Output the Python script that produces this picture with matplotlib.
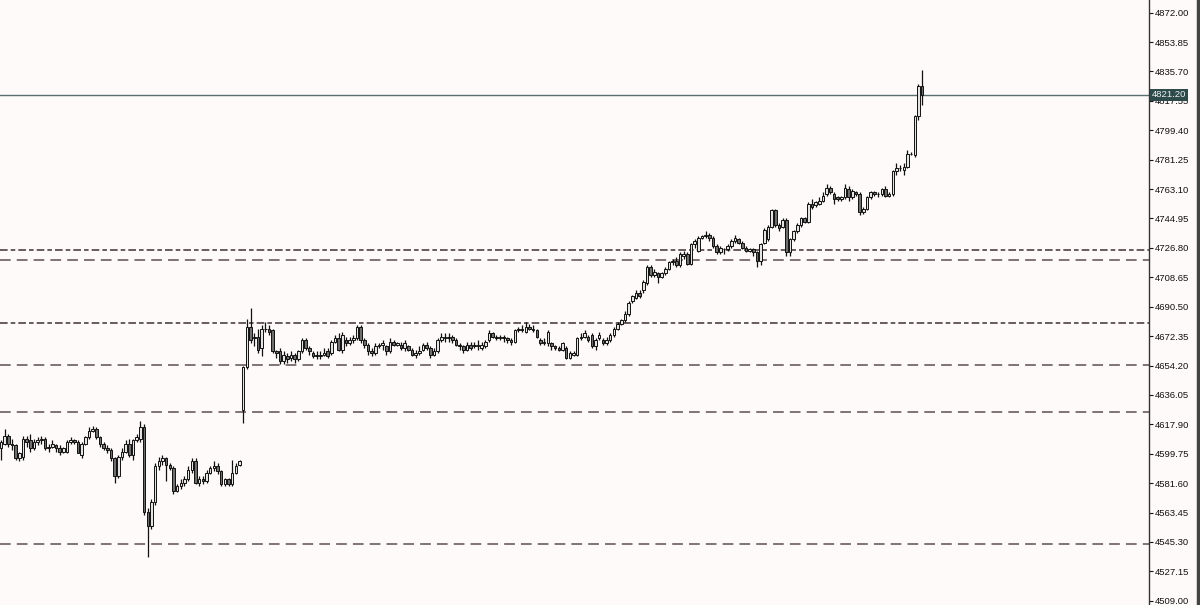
import numpy as np
import matplotlib
matplotlib.use("Agg")
from matplotlib import pyplot as plt

# candles, left to right (0-65 = first session, 66+ = after the gap)
opens = [
    4603, 4606, 4611, 4606, 4605, 4597, 4598, 4609, 4608, 4603,
    4607, 4608, 4609, 4603, 4604, 4605, 4603, 4601, 4601, 4607,
    4608, 4607, 4599, 4606, 4610, 4614, 4615, 4610, 4606, 4603,
    4602, 4597, 4586, 4598, 4601, 4606, 4599, 4608, 4609, 4616,
    4564, 4555, 4570, 4592, 4595, 4597, 4593, 4591, 4577, 4580,
    4582, 4584, 4590, 4595, 4582, 4584, 4583, 4588, 4591, 4592,
    4589, 4581, 4584, 4581, 4588, 4593,
    4627, 4653, 4678, 4671,
    4672, 4665, 4677, 4677, 4676, 4663, 4663, 4657, 4660, 4659,
    4661, 4658, 4663, 4670, 4665, 4662, 4661, 4660, 4661, 4663,
    4662, 4669, 4671, 4664, 4670, 4668, 4670, 4671, 4678, 4670,
    4667, 4663, 4662, 4666, 4667, 4666, 4663, 4669, 4667, 4667,
    4665, 4666, 4664, 4661, 4662, 4664, 4667, 4665, 4661, 4663,
    4670, 4672, 4671, 4672, 4670, 4667, 4666, 4664, 4667, 4666,
    4667, 4665, 4666, 4670, 4674, 4672, 4671, 4672, 4671, 4670,
    4669, 4676, 4677, 4675, 4678, 4677, 4676, 4670, 4668, 4668,
    4668, 4666, 4665, 4664, 4665, 4659, 4661, 4661, 4671, 4672,
    4672, 4673, 4666, 4671, 4670, 4668, 4670, 4673, 4677, 4680,
    4682, 4686, 4694, 4696, 4699, 4701, 4705, 4715, 4710, 4711,
    4709, 4711, 4714, 4718, 4719, 4716, 4722, 4723, 4717, 4729,
    4725, 4733, 4734, 4735, 4733, 4728, 4724, 4726, 4726, 4728,
    4731, 4732, 4730, 4727, 4725, 4726, 4724, 4719, 4730, 4732,
    4740, 4750, 4741, 4740, 4744, 4724, 4732, 4737, 4741, 4745,
    4743, 4754, 4753, 4754, 4756, 4760, 4764, 4760, 4758, 4757,
    4758, 4763, 4758, 4761, 4760, 4749, 4751, 4758, 4761, 4760,
    4760, 4763, 4759, 4760, 4774, 4776, 4775, 4777, 4785, 4784,
    4808, 4827,
]
highs = [
    4608, 4615, 4612, 4609, 4606, 4601, 4611, 4611, 4612, 4609,
    4610, 4611, 4610, 4606, 4608, 4606, 4605, 4604, 4608, 4610,
    4609, 4608, 4607, 4611, 4616, 4617, 4616, 4611, 4607, 4605,
    4603, 4598, 4599, 4603, 4608, 4609, 4609, 4612, 4620, 4618,
    4566, 4572, 4594, 4598, 4599, 4598, 4594, 4592, 4581, 4584,
    4586, 4592, 4597, 4597, 4586, 4586, 4590, 4592, 4595, 4594,
    4590, 4585, 4585, 4596, 4594, 4596,
    4654, 4683, 4690, 4674,
    4677, 4679, 4681, 4679, 4677, 4664, 4665, 4663, 4662, 4663,
    4662, 4664, 4671, 4671, 4666, 4663, 4663, 4663, 4665, 4665,
    4670, 4673, 4674, 4675, 4672, 4672, 4673, 4679, 4679, 4671,
    4668, 4665, 4668, 4668, 4670, 4667, 4671, 4670, 4669, 4669,
    4670, 4667, 4665, 4664, 4666, 4668, 4669, 4666, 4665, 4671,
    4674, 4674, 4674, 4673, 4671, 4668, 4667, 4669, 4669, 4669,
    4670, 4669, 4670, 4676, 4675, 4673, 4673, 4673, 4672, 4671,
    4677, 4678, 4679, 4681, 4680, 4679, 4677, 4671, 4671, 4676,
    4669, 4667, 4666, 4669, 4666, 4663, 4663, 4672, 4674, 4676,
    4673, 4674, 4671, 4675, 4671, 4672, 4674, 4678, 4681, 4683,
    4688, 4694, 4698, 4701, 4701, 4707, 4716, 4716, 4714, 4712,
    4712, 4715, 4719, 4720, 4721, 4724, 4725, 4724, 4730, 4732,
    4734, 4735, 4737, 4736, 4734, 4729, 4728, 4727, 4729, 4732,
    4735, 4733, 4731, 4728, 4727, 4727, 4725, 4730, 4739, 4741,
    4751, 4751, 4742, 4745, 4745, 4733, 4738, 4742, 4746, 4746,
    4755, 4757, 4756, 4758, 4761, 4766, 4765, 4761, 4759, 4759,
    4766, 4765, 4763, 4762, 4761, 4752, 4759, 4762, 4762, 4761,
    4764, 4765, 4761, 4775, 4779, 4778, 4779, 4787, 4786, 4809,
    4828, 4836.5,
]
lows = [
    4596, 4605, 4604, 4602, 4596, 4595, 4596, 4604, 4601, 4602,
    4605, 4606, 4602, 4601, 4603, 4601, 4599, 4600, 4600, 4606,
    4606, 4600, 4597, 4605, 4609, 4613, 4609, 4604, 4602, 4600,
    4595, 4582, 4585, 4596, 4600, 4598, 4596, 4607, 4607, 4562,
    4536, 4553, 4568, 4590, 4593, 4583, 4590, 4575, 4576, 4578,
    4580, 4583, 4588, 4581, 4580, 4581, 4582, 4587, 4589, 4587,
    4580, 4580, 4580, 4580, 4587, 4592,
    4619, 4652, 4668, 4666,
    4662, 4660, 4675, 4673, 4662, 4659, 4655, 4655, 4656, 4657,
    4656, 4657, 4662, 4664, 4661, 4659, 4658, 4658, 4660, 4659,
    4661, 4668, 4663, 4662, 4666, 4667, 4668, 4670, 4668, 4665,
    4661, 4660, 4661, 4665, 4664, 4661, 4662, 4666, 4666, 4664,
    4663, 4663, 4660, 4659, 4661, 4663, 4664, 4659, 4660, 4662,
    4669, 4669, 4669, 4668, 4666, 4664, 4662, 4663, 4664, 4665,
    4664, 4664, 4665, 4669, 4671, 4670, 4670, 4669, 4668, 4667,
    4668, 4675, 4675, 4674, 4676, 4675, 4671, 4667, 4667, 4666,
    4664, 4664, 4663, 4663, 4658, 4658, 4660, 4660, 4670, 4671,
    4669, 4665, 4664, 4670, 4667, 4667, 4669, 4672, 4676, 4679,
    4681, 4685, 4693, 4695, 4696, 4699, 4704, 4709, 4709, 4705,
    4708, 4710, 4713, 4716, 4715, 4715, 4720, 4716, 4716, 4727,
    4724, 4732, 4733, 4731, 4727, 4723, 4723, 4723, 4725, 4727,
    4730, 4729, 4726, 4724, 4724, 4722, 4715, 4716, 4729, 4731,
    4739, 4740, 4737, 4739, 4722, 4722, 4731, 4736, 4740, 4742,
    4742, 4751, 4752, 4753, 4755, 4759, 4760, 4754, 4756, 4756,
    4757, 4756, 4757, 4759, 4747, 4748, 4750, 4757, 4759, 4758,
    4759, 4758, 4758, 4759, 4772, 4774, 4772, 4776, 4784, 4783,
    4806, 4815,
]
closes = [
    4607, 4611, 4606, 4605, 4597, 4600, 4609, 4607, 4603, 4607,
    4608, 4609, 4603, 4604, 4606, 4603, 4601, 4603, 4607, 4608,
    4607, 4600, 4606, 4610, 4614, 4615, 4610, 4606, 4603, 4602,
    4597, 4586, 4598, 4601, 4606, 4599, 4608, 4610, 4616, 4564,
    4555, 4570, 4592, 4595, 4597, 4593, 4591, 4577, 4580, 4582,
    4584, 4590, 4595, 4582, 4584, 4583, 4588, 4591, 4592, 4589,
    4581, 4584, 4581, 4588, 4592, 4595,
    4653, 4678, 4670, 4672,
    4664, 4677, 4677, 4675, 4663, 4662, 4657, 4661, 4658, 4661,
    4658, 4663, 4670, 4665, 4663, 4660, 4660, 4661, 4662, 4660,
    4669, 4671, 4664, 4673, 4668, 4670, 4671, 4678, 4670, 4667,
    4663, 4662, 4666, 4667, 4668, 4663, 4669, 4667, 4668, 4665,
    4668, 4664, 4661, 4662, 4663, 4667, 4665, 4661, 4663, 4670,
    4672, 4671, 4672, 4670, 4667, 4666, 4664, 4667, 4665, 4667,
    4666, 4667, 4669, 4674, 4672, 4671, 4672, 4671, 4670, 4669,
    4676, 4677, 4676, 4678, 4677, 4676, 4672, 4668, 4669, 4675,
    4666, 4665, 4664, 4668, 4659, 4662, 4662, 4671, 4672, 4674,
    4670, 4666, 4670, 4673, 4668, 4670, 4673, 4677, 4680, 4682,
    4686, 4693, 4697, 4699, 4697, 4706, 4715, 4710, 4712, 4709,
    4711, 4714, 4718, 4719, 4716, 4723, 4723, 4717, 4729, 4731,
    4733, 4734, 4735, 4733, 4728, 4724, 4727, 4726, 4728, 4731,
    4733, 4730, 4727, 4725, 4726, 4724, 4719, 4729, 4738, 4740,
    4750, 4741, 4739, 4744, 4724, 4732, 4737, 4741, 4745, 4743,
    4754, 4752, 4755, 4756, 4759, 4764, 4761, 4757, 4757, 4758,
    4764, 4758, 4762, 4760, 4749, 4751, 4758, 4761, 4760, 4760,
    4763, 4759, 4760, 4774, 4776, 4776, 4777, 4785, 4785, 4808,
    4827, 4821.2,
]

# price scale labels on the right
price_ticks = [4509.00, 4527.15, 4545.30, 4563.45, 4581.60, 4599.75, 4617.90,
               4636.05, 4654.20, 4672.35, 4690.50, 4708.65, 4726.80, 4744.95,
               4763.10, 4781.25, 4799.40, 4817.55, 4835.70, 4853.85, 4872.00]

# horizontal levels drawn on the chart
dashdot_levels = [4725.8, 4680.5]
dash_levels = [4719.2, 4654.8, 4625.8, 4544.0]
last_price = 4821.20

o = np.array(opens, dtype=float)
h = np.array(highs, dtype=float)
l = np.array(lows, dtype=float)
c = np.array(closes, dtype=float)
x = np.arange(len(c))

bg = '#fffafa'
fig = plt.figure(figsize=(12, 6.05), dpi=100)
fig.patch.set_facecolor(bg)
ax = fig.add_axes([0, 0, 1149 / 1200, 1])
ax.set_facecolor(bg)

# levels first so candles sit on top
for lv in dashdot_levels:
    ax.axhline(lv, color='#3e3030', lw=1.1, ls=(0, (5, 2, 3, 2)), zorder=1)
for lv in dash_levels:
    ax.axhline(lv, color='#5c4e4e', lw=1.1, ls=(0, (7, 4)), zorder=1)
ax.axhline(last_price, color='#56716f', lw=1.0, zorder=1)

ax.vlines(x, l, h, color='#111111', lw=0.9, zorder=2)
bull = c >= o
ax.bar(x[bull], (c - o)[bull], bottom=o[bull], width=0.7,
       color='#e4e4e4', edgecolor='#111111', linewidth=0.7, zorder=3)
ax.bar(x[~bull], (c - o)[~bull], bottom=o[~bull], width=0.7,
       color='#6e6e6e', edgecolor='#111111', linewidth=0.7, zorder=3)

ax.set_xlim(-0.27, -0.27 + 1149 / 3.67)
ax.set_ylim(4506.4, 4879.8)

for s in ['top', 'left', 'bottom']:
    ax.spines[s].set_visible(False)
ax.spines['right'].set_color('#333333')
ax.spines['right'].set_linewidth(1.0)
ax.set_xticks([])
ax.yaxis.tick_right()
ax.set_yticks(price_ticks)
ax.set_yticklabels(['%.2f' % t for t in price_ticks])
ax.tick_params(axis='y', length=3, width=0.8, pad=1, colors='#111111',
               labelsize=6.8)
for lab in ax.get_yticklabels():
    lab.set_fontfamily('Liberation Sans')

# current price tag on the scale
ax.annotate('%.2f' % last_price, xy=(1.0, last_price),
            xycoords=('axes fraction', 'data'), xytext=(2, 0),
            textcoords='offset points', ha='left', va='center',
            fontsize=6.8, family='Liberation Sans', color='#e8f0f0',
            bbox=dict(boxstyle='square,pad=0.15', fc='#2f4a4a', ec='none'),
            annotation_clip=False, zorder=5)

# dark frame on the far right
fig.add_artist(plt.Line2D([1197.5 / 1200, 1197.5 / 1200], [0, 1],
                          transform=fig.transFigure, color='#444444', lw=2.5))

fig.savefig('out.png', dpi=100, facecolor=bg)
